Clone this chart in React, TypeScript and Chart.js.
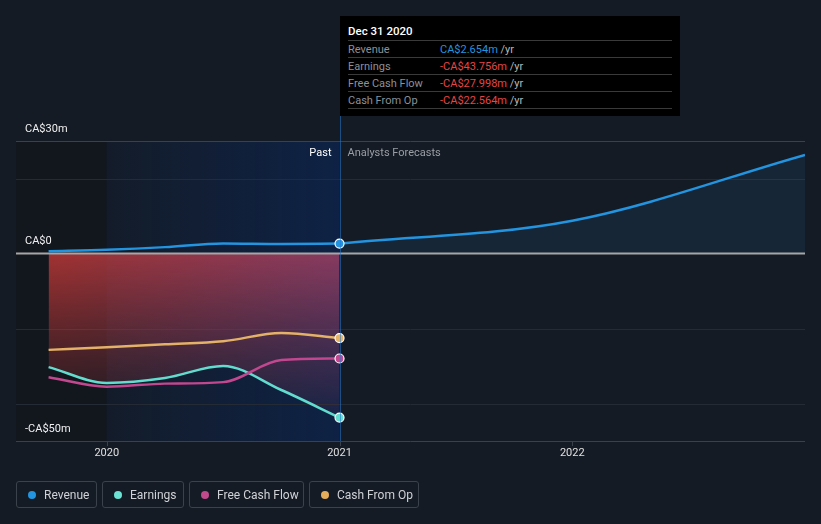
import React, { useEffect, useRef } from "react";
import { Chart, registerables } from "chart.js";

Chart.register(...registerables);

// ---- data ----
const pastX = [2019.75, 2020.0, 2020.25, 2020.5, 2020.75, 2021.0];
const revenuePast = [0.6, 1.0, 1.7, 2.7, 2.55, 2.654];
const earningsPast = [-30.3, -34.5, -33.2, -30.0, -36.4, -43.756];
const fcfPast = [-33.0, -35.5, -34.7, -34.3, -28.4, -27.998];
const cfoPast = [-25.7, -25.0, -24.2, -23.4, -21.2, -22.564];

const forecastX = [2021.0, 2022.0, 2023.0];
const revenueForecast = [2.654, 8.75, 26.3];

const xTicks = [2020, 2021, 2022];
const yGrid = [30, 20, 0, -20, -40, -50];
const yLabels = [
  { v: 30, t: "CA$30m" },
  { v: 0, t: "CA$0" },
  { v: -50, t: "-CA$50m" },
];

const tooltipTitle = "Dec 31 2020";
const tooltipRows = [
  { label: "Revenue", value: "CA$2.654m", color: "#2394df" },
  { label: "Earnings", value: "-CA$43.756m", color: "#e64545" },
  { label: "Free Cash Flow", value: "-CA$27.998m", color: "#e64545" },
  { label: "Cash From Op", value: "-CA$22.564m", color: "#e64545" },
];

const legendItems = [
  { label: "Revenue", color: "#2394df", w: 81 },
  { label: "Earnings", color: "#6be2d4", w: 82 },
  { label: "Free Cash Flow", color: "#c04a8c", w: 115 },
  { label: "Cash From Op", color: "#e5ad5a", w: 110 },
];

const BG = "#151b24";
const FONT = "Roboto, 'Noto Sans', sans-serif";
const PAST_START = 2020.0;
const NOW = 2021.0;

const pts = (xs: number[], ys: number[]) => xs.map((x, i) => ({ x, y: ys[i] }));
const lastOnly = (n: number, r: number) => Array.from({ length: n }, (_, i) => (i === n - 1 ? r : 0));

const bgPlugin = {
  id: "bgPlugin",
  beforeDraw(chart: any) {
    const { ctx, chartArea: a, scales } = chart;
    const xs = scales.x, ys = scales.y;
    ctx.save();
    const xp = xs.getPixelForValue(PAST_START);
    const xn = xs.getPixelForValue(NOW);
    ctx.fillStyle = "rgba(0,0,0,0.14)";
    ctx.fillRect(a.left, a.top, xp - a.left, a.bottom - a.top);
    const g = ctx.createLinearGradient(xp, 0, xn, 0);
    g.addColorStop(0, "rgba(5,45,115,0.08)");
    g.addColorStop(1, "rgba(5,45,115,0.42)");
    ctx.fillStyle = g;
    ctx.fillRect(xp, a.top, xn - xp, a.bottom - a.top);
    yGrid.forEach((v) => {
      if (v === 0) return;
      const y = Math.round(ys.getPixelForValue(v)) + 0.5;
      ctx.strokeStyle = v === 30 || v === -50 ? "#3b414b" : "#252b34";
      ctx.lineWidth = 1;
      ctx.beginPath();
      ctx.moveTo(a.left, y);
      ctx.lineTo(a.right, y);
      ctx.stroke();
    });
    xTicks.forEach((t) => {
      const x = Math.round(xs.getPixelForValue(t)) + 0.5;
      ctx.strokeStyle = "#3b414b";
      ctx.beginPath();
      ctx.moveTo(x, a.bottom);
      ctx.lineTo(x, a.bottom + 5);
      ctx.stroke();
    });
    ctx.restore();
  },
  beforeDatasetsDraw(chart: any) {
    const { ctx, chartArea: a, scales } = chart;
    const y = scales.y.getPixelForValue(0);
    ctx.save();
    ctx.strokeStyle = "#a6a6a6";
    ctx.lineWidth = 2;
    ctx.beginPath();
    ctx.moveTo(a.left, y);
    ctx.lineTo(a.right, y);
    ctx.stroke();
    ctx.restore();
  },
  afterDatasetsDraw(chart: any) {
    const { ctx, chartArea: a, scales } = chart;
    const xs = scales.x, ys = scales.y;
    ctx.save();
    const xn = Math.round(xs.getPixelForValue(NOW)) + 0.5;
    ctx.strokeStyle = "rgba(35,120,210,0.55)";
    ctx.lineWidth = 1;
    ctx.beginPath();
    ctx.moveTo(xn, 116);
    ctx.lineTo(xn, a.bottom);
    ctx.stroke();
    ctx.font = `11px ${FONT}`;
    ctx.fillStyle = "#f0f0f0";
    ctx.textAlign = "left";
    ctx.textBaseline = "middle";
    yLabels.forEach((l) => {
      ctx.fillText(l.t, a.left + 9, ys.getPixelForValue(l.v) - 12);
    });
    ctx.textAlign = "center";
    ctx.fillStyle = "#e0e0e0";
    xTicks.forEach((t) => {
      ctx.fillText(String(t), xs.getPixelForValue(t), a.bottom + 12);
    });
    ctx.textAlign = "right";
    ctx.fillStyle = "#ffffff";
    ctx.fillText("Past", xn - 9, a.top + 12);
    ctx.textAlign = "left";
    ctx.fillStyle = "#9a9ea5";
    ctx.fillText("Analysts Forecasts", xn + 7, a.top + 12);
    ctx.restore();
  },
};

let patternCache: any = null;
function earningsFill(context: any) {
  const chart = context.chart;
  const { chartArea, scales } = chart;
  if (!chartArea) return "rgba(190,50,50,0.5)";
  const key = `${chart.width}x${chart.height}`;
  if (patternCache && patternCache.key === key) return patternCache.pattern;
  const off = document.createElement("canvas");
  off.width = chart.width;
  off.height = chart.height;
  const o = off.getContext("2d")!;
  const x0 = scales.x.getPixelForValue(pastX[0]);
  const x1 = scales.x.getPixelForValue(NOW);
  const hg = o.createLinearGradient(x0, 0, x1, 0);
  hg.addColorStop(0, "rgb(202,58,56)");
  hg.addColorStop(0.2, "rgb(190,60,66)");
  hg.addColorStop(1, "rgb(168,66,104)");
  o.fillStyle = hg;
  o.fillRect(0, 0, off.width, off.height);
  o.globalCompositeOperation = "destination-in";
  const y0 = scales.y.getPixelForValue(0);
  const y1 = scales.y.getPixelForValue(-44);
  const vg = o.createLinearGradient(0, y0, 0, y1);
  vg.addColorStop(0, "rgba(0,0,0,0.78)");
  vg.addColorStop(0.55, "rgba(0,0,0,0.35)");
  vg.addColorStop(1, "rgba(0,0,0,0.05)");
  o.fillStyle = vg;
  o.fillRect(0, 0, off.width, off.height);
  const pattern = chart.ctx.createPattern(off, "no-repeat");
  patternCache = { key, pattern };
  return pattern;
}

export default function App() {
  const ref = useRef<HTMLCanvasElement>(null);
  useEffect(() => {
    if (!ref.current) return;
    patternCache = null;
    const line = (data: any, color: string, extra: any = {}) => ({
      data,
      borderColor: color,
      backgroundColor: color,
      borderWidth: 2.5,
      pointRadius: lastOnly(data.length, 4.5),
      pointBackgroundColor: color,
      pointBorderColor: "#ffffff",
      pointBorderWidth: 1.2,
      cubicInterpolationMode: "monotone",
      fill: false,
      ...extra,
    });
    const chart = new Chart(ref.current, {
      type: "line",
      data: {
        datasets: [
          line(pts(pastX, revenuePast), "#2394df"),
          line(pts(forecastX, revenueForecast), "#2394df", {
            pointRadius: 0,
            fill: "origin",
            backgroundColor: "rgba(33,150,243,0.09)",
          }),
          line(pts(pastX, cfoPast), "#e3b167"),
          line(pts(pastX, fcfPast), "#c2478f"),
          line(pts(pastX, earningsPast), "#62dccf", {
            fill: "origin",
            backgroundColor: earningsFill,
          }),
        ] as any,
      },
      options: {
        animation: false,
        responsive: false,
        devicePixelRatio: 1,
        layout: { padding: { left: 16, right: 16, top: 141, bottom: 83 } },
        scales: {
          x: { type: "linear", min: 2019.61, max: 2023.0, display: false },
          y: { type: "linear", min: -50, max: 30, display: false },
        },
        plugins: {
          legend: { display: false },
          tooltip: { enabled: false },
          filler: { drawTime: "beforeDatasetsDraw" } as any,
        },
      } as any,
      plugins: [bgPlugin],
    });
    return () => chart.destroy();
  }, []);

  let lx = 16;
  return (
    <div
      style={{
        position: "fixed",
        left: 0,
        top: 0,
        width: 821,
        height: 524,
        background: BG,
        fontFamily: FONT,
        overflow: "hidden",
      }}
    >
      <canvas ref={ref} width={821} height={524} style={{ position: "absolute", left: 0, top: 0 }} />
      <div
        style={{
          position: "absolute",
          left: 340,
          top: 16,
          width: 340,
          height: 100,
          background: "#000",
          boxSizing: "border-box",
          padding: "0 8px",
        }}
      >
        <div style={{ color: "#fff", fontSize: 11.5, fontWeight: 500, height: 24, lineHeight: "31px" }}>
          {tooltipTitle}
        </div>
        {tooltipRows.map((r) => (
          <div
            key={r.label}
            style={{
              borderTop: "1px solid #3a3a3a",
              height: 17,
              boxSizing: "border-box",
              display: "flex",
              alignItems: "center",
              fontSize: 11,
              whiteSpace: "nowrap",
            }}
          >
            <span style={{ color: "#8c9097", width: 92, display: "inline-block" }}>{r.label}</span>
            <span style={{ color: r.color }}>{r.value}</span>
            <span style={{ color: "#b8b8b8" }}>&nbsp;/yr</span>
          </div>
        ))}
        <div style={{ borderTop: "1px solid #3a3a3a" }} />
      </div>
      {legendItems.map((it) => {
        const left = lx;
        lx += it.w + 5;
        return (
          <div
            key={it.label}
            style={{
              position: "absolute",
              left,
              top: 481,
              width: it.w,
              height: 27,
              border: "1px solid #3c424c",
              borderRadius: 3,
              boxSizing: "border-box",
              display: "flex",
              alignItems: "center",
              paddingLeft: 11,
              fontSize: 12,
              color: "#cfd2d6",
              whiteSpace: "nowrap",
            }}
          >
            <span
              style={{
                width: 8,
                height: 8,
                borderRadius: 4,
                background: it.color,
                display: "inline-block",
                marginRight: 8,
              }}
            />
            {it.label}
          </div>
        );
      })}
    </div>
  );
}
